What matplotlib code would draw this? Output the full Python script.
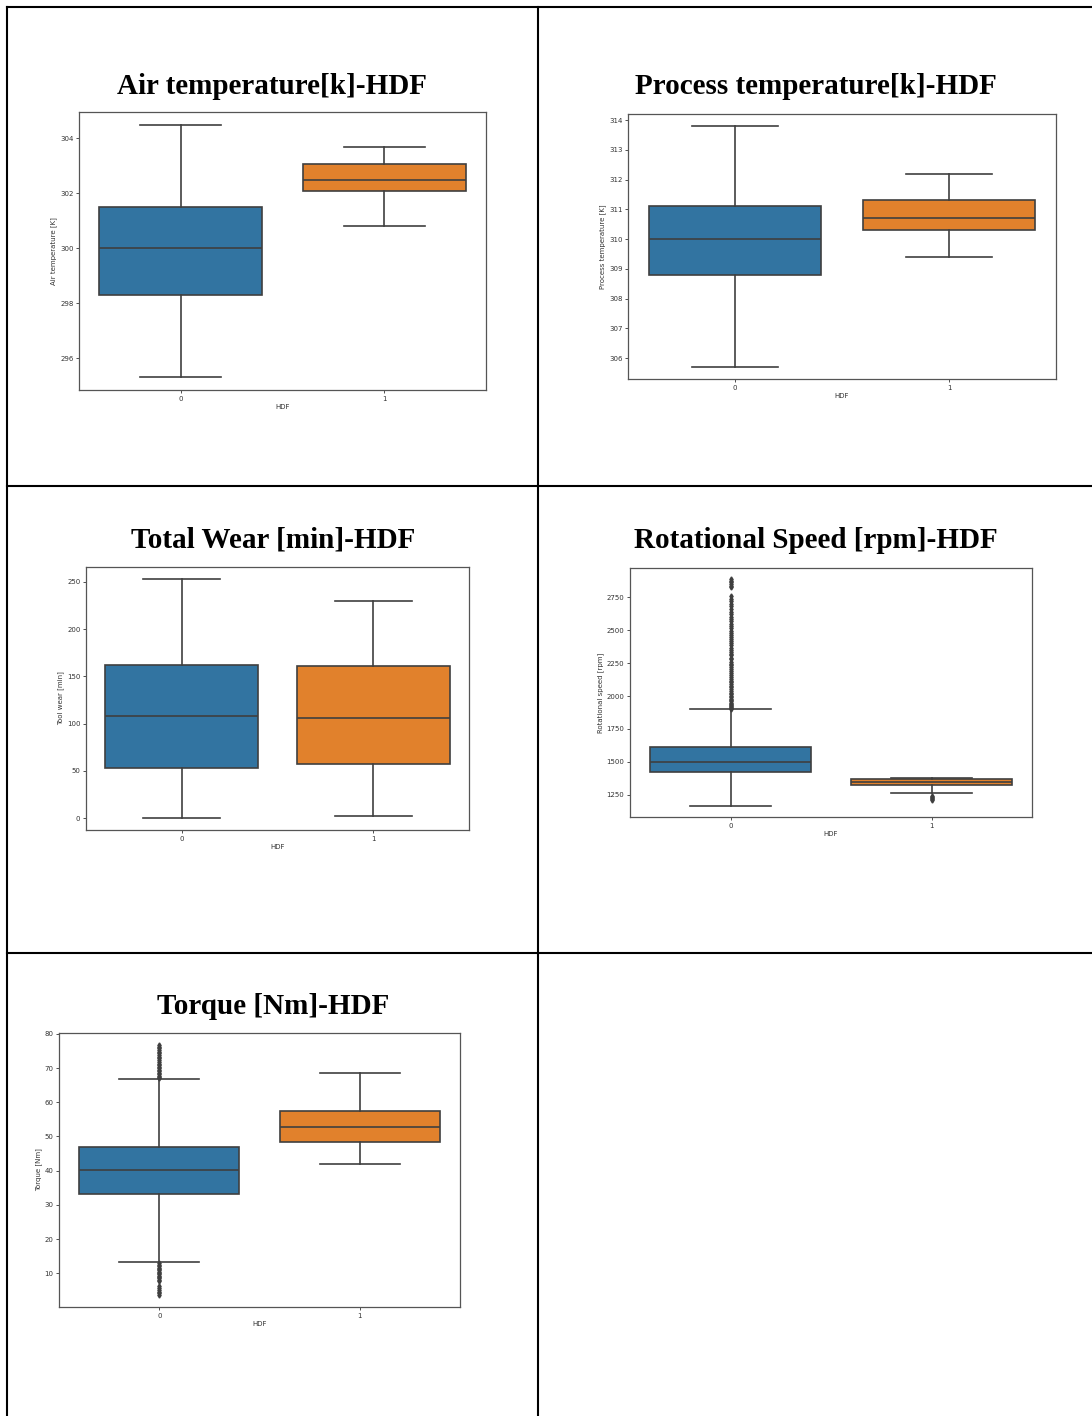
import numpy as np
import matplotlib.pyplot as plt
from matplotlib.lines import Line2D

# ======================================================
# DATA
# ======================================================

groups = ["0", "1"]

air_whislo = [295.3, 300.8]
air_q1 = [298.3, 302.1]
air_med = [300.0, 302.5]
air_q3 = [301.5, 303.05]
air_whishi = [304.5, 303.7]

proc_whislo = [305.7, 309.4]
proc_q1 = [308.8, 310.3]
proc_med = [310.0, 310.7]
proc_q3 = [311.1, 311.3]
proc_whishi = [313.8, 312.2]

wear_whislo = [0, 2]
wear_q1 = [53, 57]
wear_med = [108, 106]
wear_q3 = [162, 161]
wear_whishi = [253, 230]

rpm_whislo = [1168, 1266]
rpm_q1 = [1423, 1324]
rpm_med = [1503, 1350]
rpm_q3 = [1616, 1368]
rpm_whishi = [1898, 1380]
rpm_fliers_0 = [1902, 1910, 1918, 1925, 1934, 1942, 1950, 1961, 1970, 1981,
                1990, 2002, 2015, 2027, 2040, 2052, 2066, 2078, 2090, 2105,
                2118, 2130, 2145, 2160, 2174, 2188, 2203, 2218, 2232, 2247,
                2262, 2278, 2292, 2308, 2322, 2337, 2352, 2368, 2384, 2400,
                2416, 2432, 2448, 2465, 2480, 2497, 2514, 2530, 2548, 2566,
                2584, 2602, 2620, 2640, 2660, 2680, 2700, 2720, 2740, 2760,
                2825, 2838, 2850, 2862, 2874, 2886]
rpm_fliers_1 = [1212, 1220, 1228, 1236, 1243]

torque_whislo = [13.2, 41.9]
torque_q1 = [33.2, 48.3]
torque_med = [40.1, 52.8]
torque_q3 = [46.8, 57.3]
torque_whishi = [66.8, 68.5]
torque_fliers_0 = [67.0, 67.4, 67.8, 68.2, 68.6, 69.0, 69.5, 70.0, 70.4, 70.9,
                   71.3, 71.8, 72.3, 72.8, 73.3, 73.8, 74.3, 74.8, 75.3, 75.8,
                   76.2, 76.6,
                   12.9, 12.5, 12.1, 11.7, 11.3, 10.9, 10.5, 10.1, 9.7, 9.3,
                   8.9, 8.5, 8.1, 7.7, 6.2, 5.7, 5.2, 4.6, 4.2, 3.8]

titles = [
    "Air temperature[k]-HDF",
    "Process temperature[k]-HDF",
    "Total Wear [min]-HDF",
    "Rotational Speed [rpm]-HDF",
    "Torque [Nm]-HDF",
]
ylabels = [
    "Air temperature [K]",
    "Process temperature [K]",
    "Tool wear [min]",
    "Rotational speed [rpm]",
    "Torque [Nm]",
]

BLUE = "#3274a1"
ORANGE = "#e1812c"
EDGE = "#3f3f3f"

W, H = 1092, 1416
fig = plt.figure(figsize=(W / 100, H / 100), dpi=100)


def px_axes(l, t, r, b):
    return fig.add_axes([l / W, 1 - b / H, (r - l) / W, (b - t) / H])


def px_line(x0, y0, x1, y1):
    fig.add_artist(Line2D([x0 / W, x1 / W], [1 - y0 / H, 1 - y1 / H],
                          transform=fig.transFigure, color="black", lw=1.5))


def make_stats(lo, q1, med, q3, hi, fliers=None):
    stats = []
    for i in range(len(med)):
        stats.append({
            "whislo": lo[i], "q1": q1[i], "med": med[i],
            "q3": q3[i], "whishi": hi[i],
            "fliers": fliers[i] if fliers else [],
        })
    return stats


def draw_panel(ax, stats, ylabel):
    bp = ax.bxp(
        stats, positions=[0, 1], widths=0.8, capwidths=0.4,
        patch_artist=True, showfliers=True, manage_ticks=False,
        boxprops=dict(edgecolor=EDGE, linewidth=1.2),
        medianprops=dict(color=EDGE, linewidth=1.2),
        whiskerprops=dict(color=EDGE, linewidth=1.2),
        capprops=dict(color=EDGE, linewidth=1.2),
        flierprops=dict(marker="d", markersize=2.6, markerfacecolor=EDGE,
                        markeredgecolor=EDGE, linestyle="none"),
    )
    for patch, c in zip(bp["boxes"], [BLUE, ORANGE]):
        patch.set_facecolor(c)
    ax.set_xlim(-0.5, 1.5)
    ax.set_xticks([0, 1])
    ax.set_xticklabels(groups)
    ax.set_xlabel("HDF", fontsize=5, color="#333333", labelpad=2)
    ax.set_ylabel(ylabel, fontsize=5, color="#333333", labelpad=2)
    ax.tick_params(labelsize=5, colors="#333333", length=2, width=0.6, pad=2)
    for s in ax.spines.values():
        s.set_color("#555555")
        s.set_linewidth(0.9)


# ======================================================
# PANELS
# ======================================================

ax1 = px_axes(79, 112, 486, 390)
draw_panel(ax1, make_stats(air_whislo, air_q1, air_med, air_q3, air_whishi),
           ylabels[0])
ax1.set_yticks([296, 298, 300, 302, 304])

ax2 = px_axes(628, 114, 1056, 379)
draw_panel(ax2, make_stats(proc_whislo, proc_q1, proc_med, proc_q3, proc_whishi),
           ylabels[1])
ax2.set_yticks([306, 307, 308, 309, 310, 311, 312, 313, 314])

ax3 = px_axes(86, 567, 469, 830)
draw_panel(ax3, make_stats(wear_whislo, wear_q1, wear_med, wear_q3, wear_whishi),
           ylabels[2])
ax3.set_yticks([0, 50, 100, 150, 200, 250])

ax4 = px_axes(630, 568, 1032, 817)
draw_panel(ax4, make_stats(rpm_whislo, rpm_q1, rpm_med, rpm_q3, rpm_whishi,
                           [rpm_fliers_0, rpm_fliers_1]),
           ylabels[3])
ax4.set_yticks([1250, 1500, 1750, 2000, 2250, 2500, 2750])

ax5 = px_axes(59, 1033, 460, 1307)
draw_panel(ax5, make_stats(torque_whislo, torque_q1, torque_med, torque_q3,
                           torque_whishi, [torque_fliers_0, []]),
           ylabels[4])
ax5.set_yticks([10, 20, 30, 40, 50, 60, 70, 80])

# ======================================================
# TABLE FRAME + TITLES
# ======================================================

px_line(7, 7, W, 7)
px_line(7, 7, 7, H)
px_line(538, 7, 538, H)
px_line(7, 486, W, 486)
px_line(7, 953, W, 953)

title_pos = [(272, 94), (816, 94), (273, 548), (816, 548), (273, 1014)]
for (x, y), t in zip(title_pos, titles):
    fig.text(x / W, 1 - y / H, t, ha="center", va="baseline",
             fontsize=21, fontweight="bold", family="Liberation Serif")

fig.savefig("out.png", dpi=100)
